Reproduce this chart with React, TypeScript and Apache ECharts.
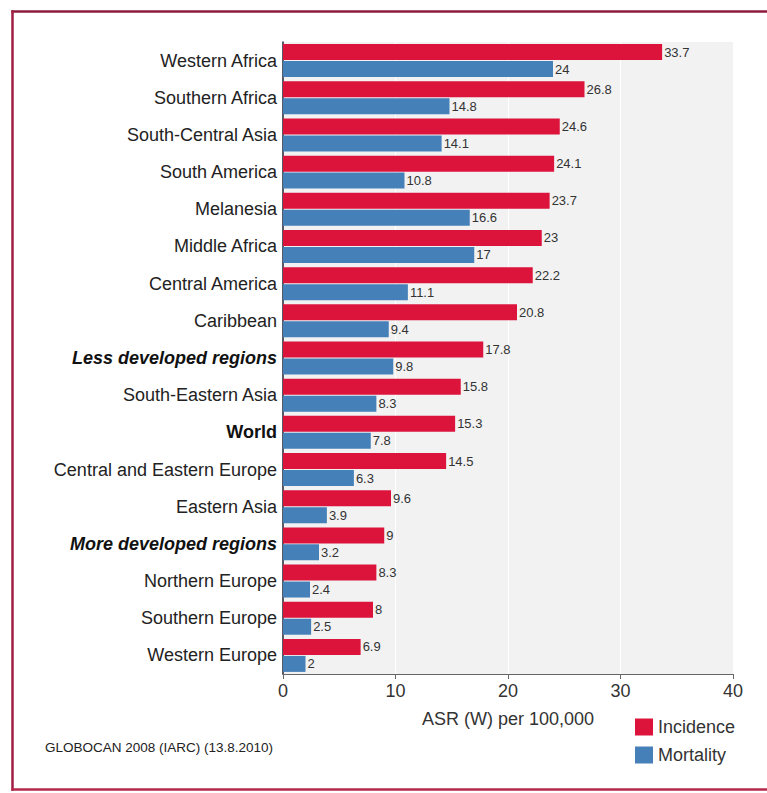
import React, { useEffect, useRef } from "react";
import * as echarts from "echarts";

const categories = [
  "Western Africa",
  "Southern Africa",
  "South-Central Asia",
  "South America",
  "Melanesia",
  "Middle Africa",
  "Central America",
  "Caribbean",
  "Less developed regions",
  "South-Eastern Asia",
  "World",
  "Central and Eastern Europe",
  "Eastern Asia",
  "More developed regions",
  "Northern Europe",
  "Southern Europe",
  "Western Europe",
];

const incidence = [33.7, 26.8, 24.6, 24.1, 23.7, 23, 22.2, 20.8, 17.8, 15.8, 15.3, 14.5, 9.6, 9, 8.3, 8, 6.9];
const mortality = [24, 14.8, 14.1, 10.8, 16.6, 17, 11.1, 9.4, 9.8, 8.3, 7.8, 6.3, 3.9, 3.2, 2.4, 2.5, 2];

const xTicks = { min: 0, max: 40, interval: 10 };
const seriesNames = ["Incidence", "Mortality"];
const axisTitle = "ASR (W) per 100,000";
const sourceNote = "GLOBOCAN 2008 (IARC) (13.8.2010)";

const italicBold = ["Less developed regions", "More developed regions"];
const boldOnly = ["World"];

export default function App() {
  const ref = useRef<HTMLDivElement>(null);
  useEffect(() => {
    if (!ref.current) return;
    const chart = echarts.init(ref.current, null, { renderer: "svg" });
    const font = "Liberation Sans, Arial, sans-serif";
    chart.setOption({
      animation: false,
      backgroundColor: "#ffffff",
      textStyle: { fontFamily: font },
      grid: {
        left: 283,
        right: 34,
        top: 42,
        bottom: 119,
        show: true,
        backgroundColor: "#f2f2f2",
        borderWidth: 0,
      },
      legend: {
        data: seriesNames,
        orient: "vertical",
        left: 630,
        top: 713,
        icon: "rect",
        itemWidth: 18,
        itemHeight: 17,
        itemGap: 10,
        textStyle: { fontSize: 18, color: "#333", fontFamily: font },
      },
      xAxis: {
        type: "value",
        min: xTicks.min,
        max: xTicks.max,
        interval: xTicks.interval,
        name: axisTitle,
        nameLocation: "middle",
        nameGap: 36,
        nameTextStyle: { fontSize: 18, color: "#333", fontFamily: font },
        axisLine: { show: true, lineStyle: { color: "#666", width: 1 } },
        axisTick: { show: true, length: 5, lineStyle: { color: "#666" } },
        axisLabel: { fontSize: 18, color: "#333", margin: 8, fontFamily: font },
        splitLine: { show: true, lineStyle: { color: "#ffffff", width: 1 } },
      },
      yAxis: {
        type: "category",
        data: categories,
        inverse: true,
        axisTick: { show: false },
        axisLine: { show: true, lineStyle: { color: "#1c2333", width: 1.5 } },
        axisLabel: {
          fontSize: 18,
          color: "#222",
          margin: 6,
          fontFamily: font,
          formatter: (v: string) => {
            if (italicBold.includes(v)) return "{bi|" + v + "}";
            if (boldOnly.includes(v)) return "{b|" + v + "}";
            return v;
          },
          rich: {
            bi: { fontSize: 18, fontWeight: "bold", fontStyle: "italic", color: "#111", fontFamily: font },
            b: { fontSize: 18, fontWeight: "bold", color: "#111", fontFamily: font },
          },
        },
      },
      series: [
        {
          name: seriesNames[0],
          type: "bar",
          data: incidence,
          barWidth: 16,
          barGap: "6%",
          itemStyle: { color: "#dc143c" },
          label: { show: true, position: "right", distance: 2, fontSize: 13, color: "#333", fontFamily: font },
        },
        {
          name: seriesNames[1],
          type: "bar",
          data: mortality,
          barWidth: 16,
          barGap: "6%",
          itemStyle: { color: "#4581b8" },
          label: { show: true, position: "right", distance: 2, fontSize: 13, color: "#333", fontFamily: font },
        },
      ],
      graphic: [
        {
          type: "line",
          shape: { x1: 11.25, y1: 11.5, x2: 767, y2: 11.5 },
          style: { stroke: "#8e1b3e", lineWidth: 2.5 },
          silent: true,
        },
        {
          type: "line",
          shape: { x1: 12.5, y1: 10.25, x2: 12.5, y2: 790.75 },
          style: { stroke: "#a01f42", lineWidth: 2.5 },
          silent: true,
        },
        {
          type: "line",
          shape: { x1: 11.25, y1: 789.5, x2: 767, y2: 789.5 },
          style: { stroke: "#b52a4c", lineWidth: 2.5 },
          silent: true,
        },
        {
          type: "text",
          left: 45,
          top: 740,
          style: { text: sourceNote, fontSize: 13.5, fill: "#222", fontFamily: font },
        },
      ],
    });
    return () => chart.dispose();
  }, []);
  return (
    <div
      ref={ref}
      style={{ position: "absolute", left: 0, top: 0, width: 767, height: 793 }}
    />
  );
}
